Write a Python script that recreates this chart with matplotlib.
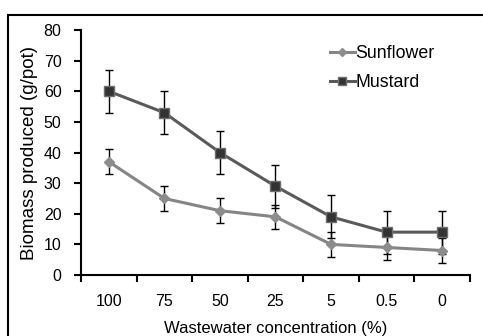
import numpy as np
import matplotlib.pyplot as plt
from matplotlib.patches import Rectangle

plt.rcParams['font.family'] = ['Liberation Sans', 'DejaVu Sans']

# wastewater concentration levels (%)
concentrations = ['100', '75', '50', '25', '5', '0.5', '0']

# biomass produced (g/pot) with error bars
sunflower = [37, 25, 21, 19, 10, 9, 8]
sunflower_err = [4, 4, 4, 4, 4, 4, 4]
mustard = [60, 53, 40, 29, 19, 14, 14]
mustard_err = [7, 7, 7, 7, 7, 7, 7]

x = np.arange(len(concentrations))

fig = plt.figure(figsize=(4.83, 3.36), dpi=100)
ax = fig.add_axes([0.1677, 0.1815, 0.8053, 0.7292])

ax.errorbar(x, sunflower, yerr=sunflower_err, fmt='none', ecolor='black',
            elinewidth=1, capsize=3, capthick=1, zorder=2)
ax.errorbar(x, mustard, yerr=mustard_err, fmt='none', ecolor='black',
            elinewidth=1, capsize=3, capthick=1, zorder=2)

ax.plot(x, sunflower, color='#858585', lw=2.2, marker='D', ms=5,
        mfc='#8c8c8c', mec='#8c8c8c', label='Sunflower', zorder=3)
ax.plot(x, mustard, color='#5a5a5a', lw=2.2, marker='s', ms=6.5,
        mfc='#333333', mec='#6e6e6e', mew=1, label='Mustard', zorder=3)

ax.set_xlim(-0.5, len(concentrations) - 0.5)
ax.set_ylim(0, 80)
ax.set_yticks(np.arange(0, 81, 10))

# ticks sit on category boundaries, labels in the middle
ax.set_xticks(np.arange(-0.5, len(concentrations), 1))
ax.set_xticklabels([])
ax.set_xticks(x, minor=True)
ax.set_xticklabels(concentrations, minor=True)
ax.tick_params(axis='x', which='major', direction='out', length=5, width=1.5)
ax.tick_params(axis='x', which='minor', length=0, pad=14, labelsize=11.5)
ax.tick_params(axis='y', direction='out', length=5, width=1.5, labelsize=11.5, pad=9)

for side in ['top', 'right']:
    ax.spines[side].set_visible(False)
for side in ['left', 'bottom']:
    ax.spines[side].set_linewidth(1.5)

ax.set_xlabel('Wastewater concentration (%)', fontsize=12, labelpad=8)
ax.set_ylabel('Biomass produced (g/pot)', fontsize=13.5, labelpad=4)

ax.legend(loc='upper left', bbox_to_anchor=(321 / 483, (336 - 36) / 336),
          bbox_transform=fig.transFigure, frameon=False, borderpad=0,
          fontsize=12.8, handlelength=1.4, handletextpad=0.05,
          labelspacing=0.7, markerscale=0.8)

# outer frame around the chart
fig.patches.append(Rectangle((8 / 483, -0.2), 1.2, (336 - 15) / 336 + 0.2,
                             transform=fig.transFigure, fill=False,
                             edgecolor='black', lw=1.5, clip_on=False))

fig.savefig('out.png', dpi=100)
